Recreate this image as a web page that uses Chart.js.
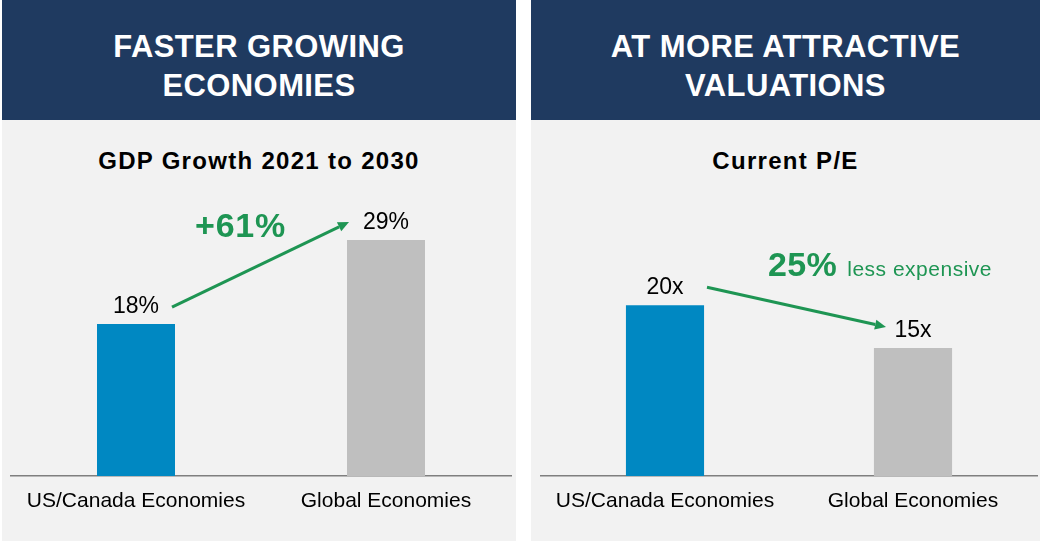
<!DOCTYPE html>
<html>
<head>
<meta charset="utf-8">
<script src="https://cdn.jsdelivr.net/npm/chart.js@4.4.1/dist/chart.umd.min.js"></script>
<style>
  html, body { margin:0; padding:0; background:#ffffff; }
  body { width:1046px; height:543px; position:relative; overflow:hidden; font-family:"Liberation Sans", Arial, sans-serif; }
  .panel { position:absolute; top:0; height:541px; background:#f2f2f2; }
  .head { position:absolute; left:0; right:0; top:0; height:120px; background:#1f3a60; }
  .htext { position:absolute; left:0; right:0; top:27px; text-align:center; color:#ffffff; font-weight:bold; font-size:31px; line-height:39px; letter-spacing:0.4px; }
  .sub { position:absolute; left:0; right:0; top:149px; text-align:center; color:#000; font-weight:bold; font-size:24px; line-height:24px; letter-spacing:1.3px; }
  canvas { position:absolute; left:0; top:0; }
  .ann { position:absolute; color:#1e9553; white-space:nowrap; }
</style>
</head>
<body>
<div class="panel" style="left:2px;width:514px;">
  <div class="head"><div class="htext">FASTER GROWING<br>ECONOMIES</div></div>
  <div class="sub" id="sub1"></div>
</div>
<div class="panel" style="left:531px;width:509px;">
  <div class="head"><div class="htext">AT MORE ATTRACTIVE<br>VALUATIONS</div></div>
  <div class="sub" id="sub2"></div>
</div>
<canvas id="c1" width="1046" height="543"></canvas>
<canvas id="c2" width="1046" height="543"></canvas>
<div class="ann" id="a1" style="left:195px;top:208px;font-size:34px;line-height:34px;font-weight:bold;letter-spacing:0.8px;"></div>
<div class="ann" style="left:768px;top:247px;line-height:34px;">
  <span id="a2" style="font-size:34px;font-weight:bold;letter-spacing:0.4px;"></span><span id="a3" style="font-size:21px;letter-spacing:0.5px;margin-left:10px;"></span>
</div>
<script>
// ---- data ----
const categories = ["US/Canada Economies", "Global Economies"];
const gdpGrowth = [18, 29];          // %
const gdpLabels = ["18%", "29%"];
const peRatio = [20, 15];            // x
const peLabels = ["20x", "15x"];
const subtitles = ["GDP Growth 2021 to 2030", "Current P/E"];
const annotations = ["+61%", "25%", "less expensive"];
const barColors = ["#0088c2", "#bfbfbf"];

document.getElementById("sub1").textContent = subtitles[0];
document.getElementById("sub2").textContent = subtitles[1];
document.getElementById("a1").textContent = annotations[0];
document.getElementById("a2").textContent = annotations[1];
document.getElementById("a3").textContent = annotations[2];

const GREEN = "#1e9553";
const FONT = "'Liberation Sans', Arial, sans-serif";

const valueLabelsPlugin = {
  id: "valueLabels",
  afterDatasetsDraw(chart, args, opts) {
    const ctx = chart.ctx;
    const meta = chart.getDatasetMeta(0);
    ctx.save();
    ctx.font = "23px " + FONT;
    ctx.fillStyle = "#000";
    ctx.textAlign = "center";
    ctx.textBaseline = "alphabetic";
    meta.data.forEach((bar, i) => {
      ctx.fillText(opts.labels[i], bar.x, bar.y - 11);
    });
    // arrow between the two labels
    const b0 = meta.data[0], b1 = meta.data[1];
    const x0 = b0.x + opts.startDx, y0 = b0.y + opts.startDy;
    const x1 = b1.x + opts.endDx, y1 = b1.y + opts.endDy;
    const ang = Math.atan2(y1 - y0, x1 - x0);
    const hl = 11, hw = 5;
    const bx = x1 - hl * Math.cos(ang), by = y1 - hl * Math.sin(ang);
    ctx.strokeStyle = GREEN;
    ctx.fillStyle = GREEN;
    ctx.lineWidth = 3;
    ctx.beginPath();
    ctx.moveTo(x0, y0);
    ctx.lineTo(bx, by);
    ctx.stroke();
    ctx.beginPath();
    ctx.moveTo(x1, y1);
    ctx.lineTo(bx + hw * Math.sin(ang), by - hw * Math.cos(ang));
    ctx.lineTo(bx - hw * Math.sin(ang), by + hw * Math.cos(ang));
    ctx.closePath();
    ctx.fill();
    ctx.restore();
  }
};

function makeChart(id, values, labels, pad, yMin, yMax, barPct, arrow) {
  return new Chart(document.getElementById(id), {
    type: "bar",
    data: {
      labels: categories,
      datasets: [{
        data: values,
        backgroundColor: barColors,
        borderWidth: 0,
        base: yMin,
        categoryPercentage: 1,
        barPercentage: barPct
      }]
    },
    options: {
      responsive: false,
      animation: false,
      events: [],
      layout: { padding: pad },
      plugins: {
        legend: { display: false },
        tooltip: { enabled: false },
        title: { display: false },
        valueLabels: Object.assign({ labels: labels }, arrow)
      },
      scales: {
        x: {
          grid: { display: false, drawTicks: false },
          border: { display: true, color: "#7f7f7f", width: 1.5 },
          ticks: { color: "#000", font: { size: 21, family: FONT }, padding: 13, maxRotation: 0 },
          afterFit: (s) => { s.height = 543 - 476; }
        },
        y: { display: false, min: yMin, max: yMax }
      }
    },
    plugins: [valueLabelsPlugin]
  });
}

makeChart("c1", gdpGrowth, gdpLabels,
  { left: 11, right: 1046 - 511, top: 120, bottom: 0 },
  -1.9, 44.72, 0.312,
  { startDx: 36, startDy: -17, endDx: -37, endDy: -18 });

makeChart("c2", peRatio, peLabels,
  { left: 541, right: 1046 - 1037, top: 120, bottom: 0 },
  0, 41.69, 0.315,
  { startDx: 42, startDy: -18, endDx: -27, endDy: -21 });
</script>
</body>
</html>
